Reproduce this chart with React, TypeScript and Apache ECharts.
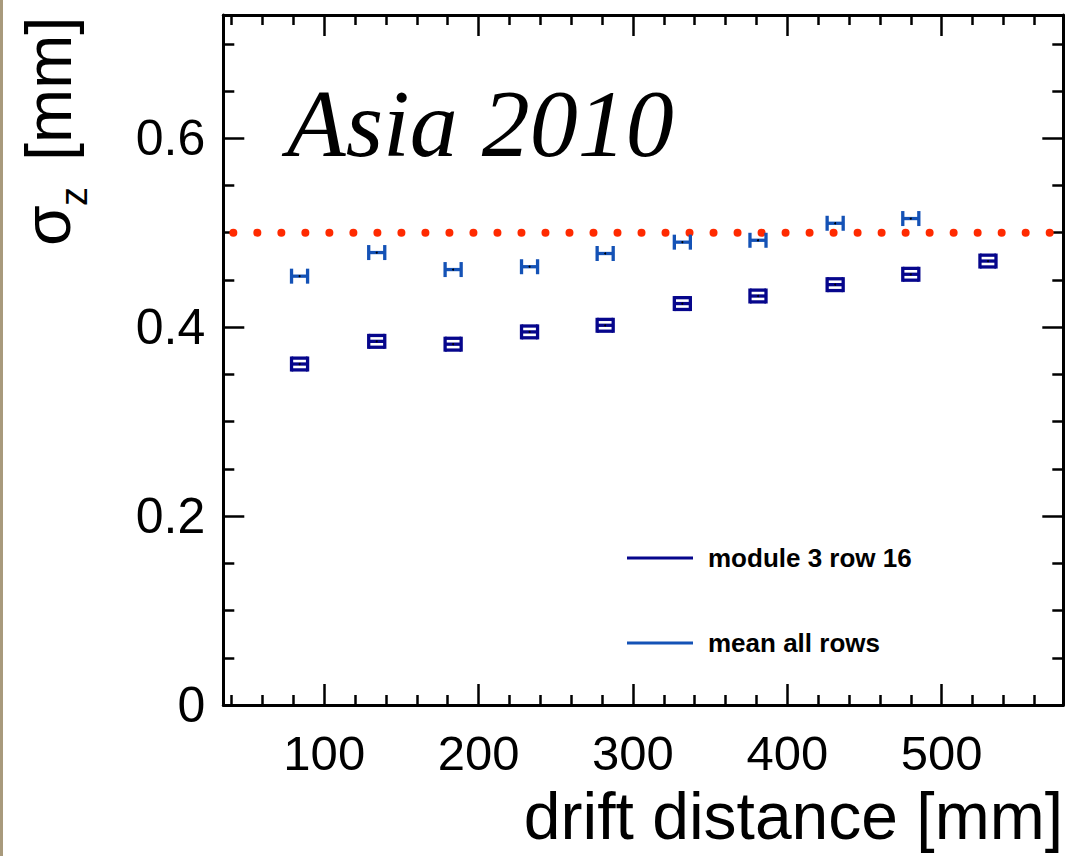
import React, { useEffect, useRef } from 'react';
import * as echarts from 'echarts';

// ---- data ----
const driftModule = [84, 134, 183.5, 233, 282, 332, 381, 431, 480, 530];
const sigmaModule = [0.361, 0.385, 0.382, 0.395, 0.402, 0.425, 0.433, 0.445, 0.456, 0.470];
const driftMean = [84, 134, 183.5, 233, 282, 332, 381, 431, 480];
const sigmaMean = [0.454, 0.479, 0.461, 0.464, 0.478, 0.490, 0.492, 0.510, 0.515];
const xError = 5.2; // mm, half width of the horizontal error bars
const referenceX = [41.1, 570.2];
const referenceY = [0.5, 0.5];

const xMajorTicks = [100, 200, 300, 400, 500];
const xMinorTicks = [40, 60, 80, 120, 140, 160, 180, 220, 240, 260, 280, 320, 340, 360, 380, 420, 440, 460, 480, 520, 540, 560];
const yMajorTicks = [0, 0.2, 0.4, 0.6];
const yMinorTicks = [0.05, 0.1, 0.15, 0.25, 0.3, 0.35, 0.45, 0.5, 0.55, 0.65, 0.7];

const X_MIN = 34.6;
const X_MAX = 578.8;
const Y_MIN = 0;
const Y_MAX = 0.7305;

const legendModule = 'module 3 row 16';
const legendMean = 'mean all rows';
const titleText = 'Asia 2010';
const xTitle = 'drift distance [mm]';

const NAVY = '#06068c';
const BLUE = '#1452b6';
const RED = '#ff2a00';
const SANS = '"Liberation Sans", Arial, Helvetica, sans-serif';

function makeXAxis(position: 'bottom' | 'top', ticks: number[], len: number, showLine: boolean, labels: boolean) {
  return {
    type: 'value',
    gridIndex: 0,
    position,
    min: X_MIN,
    max: X_MAX,
    splitLine: { show: false },
    axisLine: { show: showLine, onZero: false, lineStyle: { color: '#000', width: 3 } },
    axisTick: { show: true, inside: true, length: len, customValues: ticks, lineStyle: { color: '#000', width: 2.5 } },
    axisLabel: labels
      ? { show: true, customValues: xMajorTicks, fontSize: 49, color: '#000', fontFamily: SANS, margin: 23 }
      : { show: false },
  };
}

function makeYAxis(position: 'left' | 'right', ticks: number[], len: number, showLine: boolean, labels: boolean) {
  return {
    type: 'value',
    gridIndex: 0,
    position,
    min: Y_MIN,
    max: Y_MAX,
    splitLine: { show: false },
    axisLine: { show: showLine, onZero: false, lineStyle: { color: '#000', width: 3 } },
    axisTick: { show: true, inside: true, length: len, customValues: ticks, lineStyle: { color: '#000', width: 2.5 } },
    axisLabel: labels
      ? {
          show: true,
          customValues: yMajorTicks,
          fontSize: 50,
          color: '#000',
          fontFamily: SANS,
          margin: 18,
          formatter: (v: number) => (v === 0 ? '0' : String(Math.round(v * 10) / 10)),
        }
      : { show: false },
  };
}

function errorGlyph(color: string, boxed: boolean) {
  return (params: any, api: any) => {
    const x = api.value(0);
    const y = api.value(1);
    const c = api.coord([x, y]);
    const l = api.coord([x - xError, y])[0];
    const r = api.coord([x + xError, y])[0];
    const h = 7.5;
    const style = { stroke: color, lineWidth: 3.3, fill: null };
    const children: any[] = [
      { type: 'line', shape: { x1: l, y1: c[1], x2: r, y2: c[1] }, style },
      { type: 'line', shape: { x1: l, y1: c[1] - h, x2: l, y2: c[1] + h }, style },
      { type: 'line', shape: { x1: r, y1: c[1] - h, x2: r, y2: c[1] + h }, style },
    ];
    if (boxed) {
      children.push({ type: 'line', shape: { x1: l, y1: c[1] - h + 1.6, x2: r, y2: c[1] - h + 1.6 }, style });
      children.push({ type: 'line', shape: { x1: l, y1: c[1] + h - 1.6, x2: r, y2: c[1] + h - 1.6 }, style });
    }
    children.push({ type: 'circle', shape: { cx: c[0], cy: c[1], r: 1 }, style: { fill: '#000' } });
    return { type: 'group', children };
  };
}

export default function App() {
  const ref = useRef<HTMLDivElement>(null);

  useEffect(() => {
    if (!ref.current) return;
    const chart = echarts.init(ref.current, undefined, { renderer: 'svg' });

    const option: any = {
      animation: false,
      backgroundColor: '#ffffff',
      grid: { left: 223.3, right: 6.7, top: 15, bottom: 151, containLabel: false },
      xAxis: [
        makeXAxis('bottom', xMajorTicks, 21, true, true),
        makeXAxis('bottom', xMinorTicks, 10, false, false),
        makeXAxis('top', xMajorTicks, 21, true, false),
        makeXAxis('top', xMinorTicks, 10, false, false),
      ],
      yAxis: [
        makeYAxis('left', yMajorTicks, 21, true, true),
        makeYAxis('left', yMinorTicks, 11, false, false),
        makeYAxis('right', yMajorTicks, 21, true, false),
        makeYAxis('right', yMinorTicks, 11, false, false),
      ],
      series: [
        {
          type: 'line',
          xAxisIndex: 0,
          yAxisIndex: 0,
          data: referenceX.map((x, i) => [x, referenceY[i]]),
          showSymbol: false,
          symbol: 'none',
          silent: true,
          lineStyle: { color: RED, width: 8, type: [0.01, 24], cap: 'round' },
          z: 1,
        },
        {
          type: 'custom',
          name: legendMean,
          xAxisIndex: 0,
          yAxisIndex: 0,
          data: driftMean.map((x, i) => [x, sigmaMean[i]]),
          renderItem: errorGlyph(BLUE, false),
          z: 3,
        },
        {
          type: 'custom',
          name: legendModule,
          xAxisIndex: 0,
          yAxisIndex: 0,
          data: driftModule.map((x, i) => [x, sigmaModule[i]]),
          renderItem: errorGlyph(NAVY, true),
          z: 3,
        },
      ],
      graphic: [
        { type: 'rect', left: 0, top: 0, shape: { x: 0, y: 0, width: 3, height: 856 }, style: { fill: '#a89a7c' } },
        {
          type: 'text',
          x: 287,
          y: 123,
          style: {
            text: titleText,
            font: 'italic 96px "Liberation Serif", "Times New Roman", serif',
            fill: '#000',
            align: 'left',
            verticalAlign: 'middle',
          },
        },
        {
          type: 'text',
          x: 1063,
          y: 816,
          style: {
            text: xTitle,
            font: '66px ' + SANS,
            fill: '#000',
            align: 'right',
            verticalAlign: 'middle',
          },
        },
        // y-axis title: sigma_z [mm]
        {
          type: 'text',
          x: 47,
          y: 246,
          rotation: Math.PI / 2,
          style: { text: 'σ', font: '66px ' + SANS, fill: '#000', align: 'left', verticalAlign: 'middle' },
        },
        {
          type: 'text',
          x: 74,
          y: 206,
          rotation: Math.PI / 2,
          style: { text: 'z', font: '38px ' + SANS, fill: '#000', align: 'left', verticalAlign: 'middle' },
        },
        {
          type: 'text',
          x: 48,
          y: 161,
          rotation: Math.PI / 2,
          style: { text: '[mm]', font: '65px ' + SANS, fill: '#000', align: 'left', verticalAlign: 'middle' },
        },
        // legend
        { type: 'line', shape: { x1: 627, y1: 558, x2: 693, y2: 558 }, style: { stroke: NAVY, lineWidth: 3 } },
        { type: 'line', shape: { x1: 627, y1: 643, x2: 693, y2: 643 }, style: { stroke: BLUE, lineWidth: 3 } },
        {
          type: 'text',
          x: 708,
          y: 558,
          style: { text: legendModule, font: 'bold 26px ' + SANS, fill: '#000', align: 'left', verticalAlign: 'middle' },
        },
        {
          type: 'text',
          x: 708,
          y: 643,
          style: { text: legendMean, font: 'bold 26px ' + SANS, fill: '#000', align: 'left', verticalAlign: 'middle' },
        },
      ],
    };

    chart.setOption(option);
    return () => chart.dispose();
  }, []);

  return (
    <div
      ref={ref}
      style={{ position: 'fixed', left: 0, top: 0, width: 1070, height: 856, background: '#fff' }}
    />
  );
}
